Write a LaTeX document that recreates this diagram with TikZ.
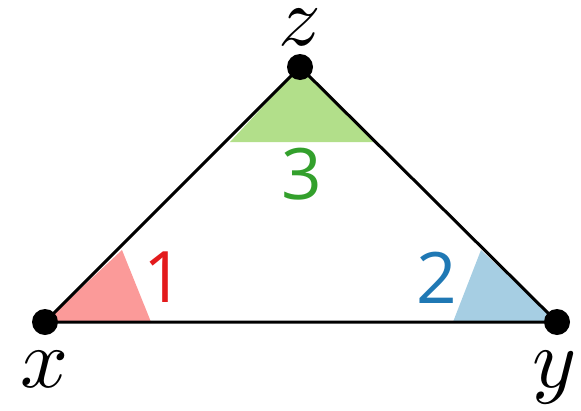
\documentclass[tikz,border=0pt]{standalone}
\usepackage{fontspec}
\newfontfamily\numfont{Open Sans}
\definecolor{redfill}{HTML}{FB9A99}
\definecolor{redtext}{HTML}{E31A1C}
\definecolor{bluefill}{HTML}{A6CEE3}
\definecolor{bluetext}{HTML}{1F78B4}
\definecolor{greenfill}{HTML}{B2DF8A}
\definecolor{greentext}{HTML}{33A02C}
\begin{document}
\begin{tikzpicture}[x=1pt,y=-1pt,
  vertex/.style={circle,fill=black,inner sep=0pt,minimum size=26pt},
  edge/.style={line width=3pt,black},
  num/.style={font=\numfont\fontsize{71}{71}\selectfont,inner sep=0pt},
  lab/.style={inner sep=0pt,scale=8.4,text height=4.3pt}]
\useasboundingbox (0,0) rectangle (581,410);
\coordinate (X) at (45,322);
\coordinate (Y) at (557,322);
\coordinate (Z) at (300,67);
\fill[redfill] (X) -- (151,322) -- (122,250) -- cycle;
\fill[bluefill] (Y) -- (453,322) -- (481,250) -- cycle;
\fill[greenfill] (Z) -- (230,142) -- (375,142) -- cycle;
\draw[edge] (X) -- (Y) -- (Z) -- cycle;
\node[vertex] (x) at (X) {};
\node[vertex] (y) at (Y) {};
\node[vertex] (z) at (Z) {};
\node[num,text=redtext] (n1) at (164,277) {1};
\node[num,text=bluetext] (n2) at (437,278) {2};
\node[num,text=greentext] (n3) at (302,174) {3};
\node[lab,anchor=base] (lz) at (300,45) {$z$};
\node[lab,anchor=base] (lx) at (45,387) {$x$};
\node[lab,anchor=base] (ly) at (555,387) {$y$};
\end{tikzpicture}
\end{document}
